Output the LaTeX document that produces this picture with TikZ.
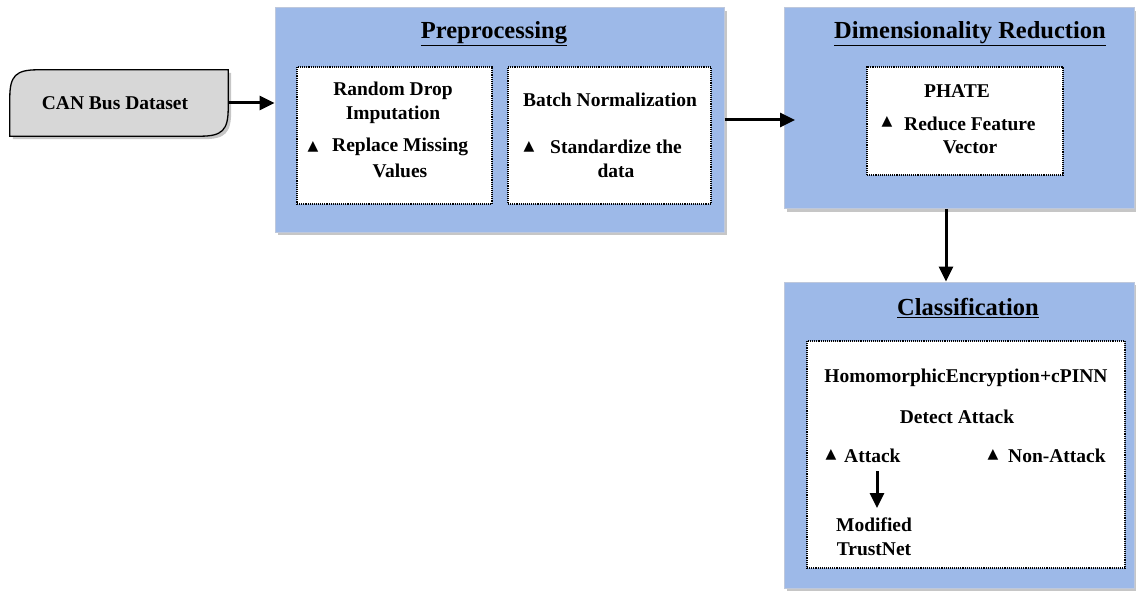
\documentclass[tikz,border=0pt]{standalone}
\usepackage{fontspec}
\setmainfont{Liberation Serif}
\newfontfamily\symfont{DejaVu Sans}
\usetikzlibrary{arrows.meta,shadows,calc}
\definecolor{panelblue}{RGB}{157,185,232}
\definecolor{panelline}{RGB}{190,200,220}
\definecolor{cangray}{RGB}{215,215,215}
\tikzset{
  panel/.style={draw=panelline, fill=panelblue, line width=1pt, inner sep=0pt,
    drop shadow={opacity=0.45, shadow xshift=3pt, shadow yshift=-3pt}},
  inbox/.style={draw=black, fill=white, densely dotted, line width=1.1pt, inner sep=0pt},
  ttl/.style={font=\bfseries\fontsize{24.5}{28}\selectfont, inner sep=0pt},
  txt/.style={font=\bfseries\fontsize{19.5}{23}\selectfont, inner sep=0pt},
  tri/.style={font=\symfont\fontsize{14}{16}\selectfont, inner sep=0pt},
  arr/.style={line width=3pt, -{Triangle[length=15pt,width=14pt]}},
}
\begin{document}
\begin{tikzpicture}[x=1pt,y=-1pt]
\useasboundingbox (0,0) rectangle (1136,591);
\clip (0,0) rectangle (1136,591);
% CAN Bus Dataset
\node[minimum width=218pt, minimum height=66pt, inner sep=0pt] (can) at (119,103) {};
\path[fill=cangray, draw=black, line width=1.3pt,
  drop shadow={opacity=0.45, shadow xshift=3pt, shadow yshift=-3pt}]
  (can.south west) -- ($(can.north west)+(0,28)$)
  .. controls ($(can.north west)+(0,6)$) and ($(can.north west)+(6,0)$) .. ($(can.north west)+(28,0)$)
  -- (can.north east) -- ($(can.south east)+(0,-28)$)
  .. controls ($(can.south east)+(0,-6)$) and ($(can.south east)+(-6,0)$) .. ($(can.south east)+(-28,0)$) -- cycle;
\node[txt] (cant) at (115,103) {CAN Bus Dataset};

% Preprocessing panel
\node[panel, minimum width=449pt, minimum height=224pt] (pre) at (499.5,120) {};
\node[ttl] (pret) at (494,34) {\underline{Preprocessing}};
\node[inbox, minimum width=195pt, minimum height=137pt] (rdi) at (394.5,135.5) {};
\node[inbox, minimum width=203pt, minimum height=137pt] (bn) at (609.5,135.5) {};
\node[txt] (rdi1) at (393,91) {Random Drop};
\node[txt] (rdi2) at (393,115) {Imputation};
\node[tri] (rdib) at (313,147) {▲};
\node[txt, anchor=west] (rdi3) at (332,147) {Replace Missing};
\node[txt] (rdi4) at (400,171) {Values};
\node[txt] (bn1) at (610,100) {Batch Normalization};
\node[tri] (bnb) at (529,147) {▲};
\node[txt, anchor=west] (bn2) at (550,147) {Standardize the};
\node[txt] (bn3) at (616,171) {data};

% Dimensionality Reduction panel
\node[panel, minimum width=350pt, minimum height=201pt] (dr) at (959,108.5) {};
\node[ttl] (drt) at (970,34) {\underline{Dimensionality Reduction}};
\node[inbox, minimum width=196pt, minimum height=108pt] (ph) at (965,121) {};
\node[txt] (ph1) at (957,91) {PHATE};
\node[tri] (phb) at (887,122) {▲};
\node[txt, anchor=west] (ph2) at (904,124) {Reduce Feature};
\node[txt] (ph3) at (970,147) {Vector};

% Classification panel
\node[panel, minimum width=350pt, minimum height=306pt] (cl) at (959,435) {};
\node[ttl] (clt) at (968,308) {\underline{Classification}};
\node[inbox, minimum width=318pt, minimum height=227pt] (cpin) at (966,454.5) {};
\node[txt] (he) at (966,378) {HomomorphicEncryption+cPINN};
\node[txt] (da) at (957,417) {Detect Attack};
\node[tri] (atb) at (831,455) {▲};
\node[txt, anchor=west] (at) at (844,456) {Attack};
\node[tri] (nab) at (993,455) {▲};
\node[txt, anchor=west] (na) at (1008,456) {Non-Attack};
\node[txt] (mt1) at (874,525) {Modified};
\node[txt] (mt2) at (874,549) {TrustNet};
\coordinate (atbot) at (877,471);
\coordinate (mttop) at (877,508);

% connectors
\draw[arr] (can.east) -- (can.east -| pre.west);
\draw[arr] (pre.east |- 0,120) -- (795,120);
\draw[arr] (dr.south -| 946,0) -- (cl.north -| 946,0);
\draw[arr] (atbot) -- (mttop);
\end{tikzpicture}
\end{document}
